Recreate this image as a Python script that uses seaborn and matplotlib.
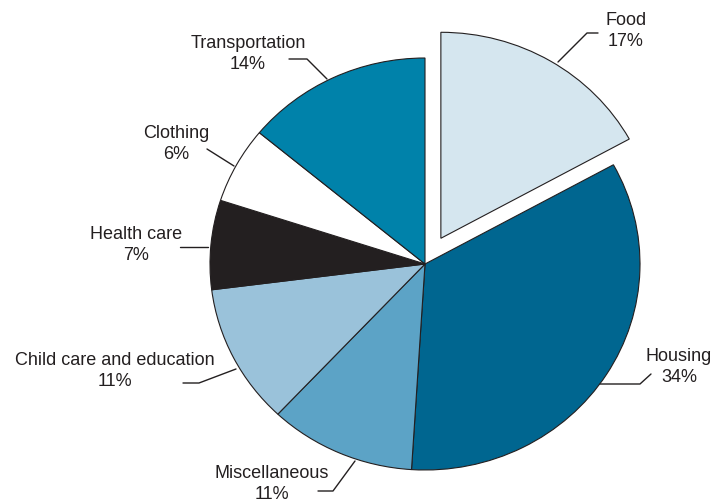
import matplotlib
matplotlib.use("Agg")
import matplotlib.pyplot as plt
import seaborn as sns

# données du graphique
categories = ["Food", "Housing", "Miscellaneous", "Child care and education",
              "Health care", "Clothing", "Transportation"]
shares = [17, 34, 11, 11, 7, 6, 14]
colors = ["#d5e6ef", "#006690", "#5ca3c6", "#9ac2da", "#231f20", "#ffffff", "#0082aa"]
explode = [0.145, 0, 0, 0, 0, 0, 0]

# position des étiquettes (pixels) et tracés des lignes de rappel
label_pos = {
    "Food": (626, 31),
    "Housing": (679, 367),
    "Miscellaneous": (272, 484),
    "Child care and education": (115, 371),
    "Health care": (136, 245),
    "Clothing": (176, 144),
    "Transportation": (248, 54),
}
leaders = {
    "Food": [(558, 63), (587, 34), (598, 34)],
    "Housing": [(600, 385), (640, 385), (651, 375)],
    "Miscellaneous": [(355, 462), (333, 492), (318, 492)],
    "Child care and education": [(236, 370), (199, 384), (183, 384)],
    "Health care": [(208, 248), (180, 248)],
    "Clothing": [(234, 167), (207, 150)],
    "Transportation": [(327, 80), (307, 60), (289, 60)],
}

W, H = 716, 502
ink = "#231f20"

sns.set_style("white")
plt.rcParams["font.family"] = ["Liberation Sans", "DejaVu Sans"]

fig = plt.figure(figsize=(W / 100, H / 100), dpi=100)
ax = fig.add_axes([0, 0, 1, 1])

ax.pie(shares, colors=colors, explode=explode, startangle=90, counterclock=False,
       wedgeprops=dict(edgecolor=ink, linewidth=0.8))

# pie légèrement elliptique comme dans l'original
cx, cy, rx, ry = 425, 265, 215, 206
ax.set_aspect("auto")
ax.set_xlim(-cx / rx, (W - cx) / rx)
ax.set_ylim((cy - H) / ry, cy / ry)
ax.axis("off")

def px(p):
    return p[0] / W, 1 - p[1] / H

for cat, val in zip(categories, shares):
    x, y = px(label_pos[cat])
    ax.text(x, y, f"{cat}\n{val}%", transform=ax.transAxes, ha="center", va="center",
            fontsize=13, color=ink, linespacing=1.35)
    pts = [px(p) for p in leaders[cat]]
    ax.plot([p[0] for p in pts], [p[1] for p in pts], transform=ax.transAxes,
            color=ink, linewidth=1.0)

fig.savefig("out.png", dpi=100)
